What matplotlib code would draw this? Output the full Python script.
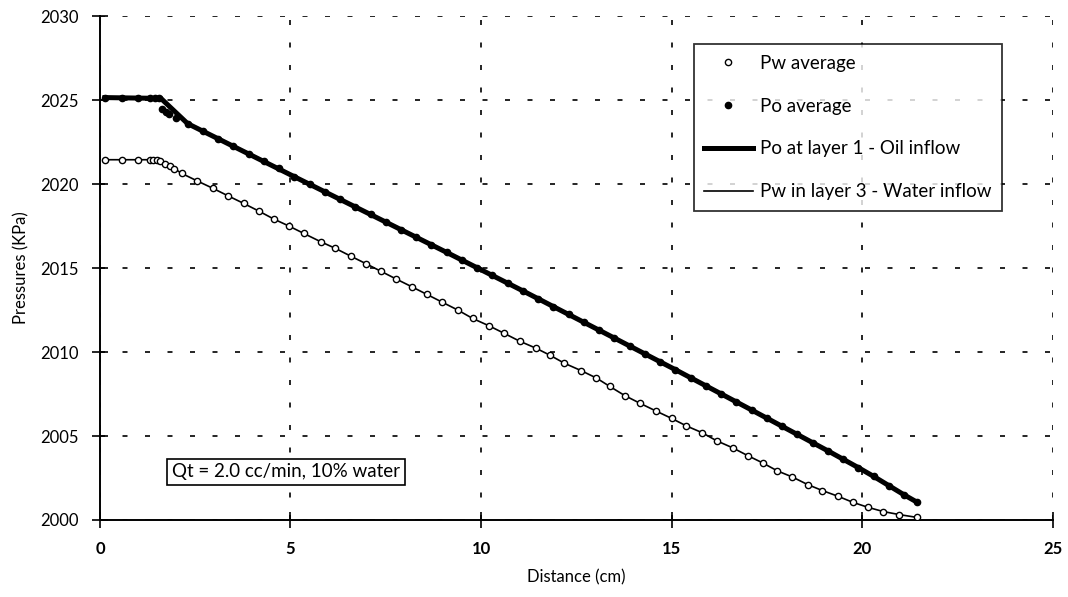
import numpy as np
import matplotlib
matplotlib.use("Agg")
import matplotlib.pyplot as plt

# Pw average (open circles) - also drawn as the thin "Pw in layer 3" line
pw_x = [0.13, 0.57, 1.01, 1.32, 1.40, 1.49, 1.58, 1.71, 1.84, 1.95, 2.15, 2.54,
        2.97, 3.37, 3.77, 4.17, 4.56, 4.96, 5.35, 5.79, 6.18, 6.58, 6.98, 7.38,
        7.78, 8.18, 8.58, 8.98, 9.39, 9.78, 10.22, 10.61, 11.01, 11.45, 11.80,
        12.19, 12.63, 13.03, 13.38, 13.77, 14.17, 14.59, 15.00, 15.39, 15.80,
        16.18, 16.60, 17.01, 17.39, 17.78, 18.17, 18.57, 18.96, 19.37, 19.76,
        20.16, 20.56, 20.98, 21.45]
pw_y = [2021.45, 2021.45, 2021.45, 2021.45, 2021.45, 2021.42, 2021.38, 2021.20,
        2021.05, 2020.92, 2020.63, 2020.20, 2019.74, 2019.29, 2018.85, 2018.39,
        2017.92, 2017.50, 2017.06, 2016.57, 2016.17, 2015.71, 2015.26, 2014.80,
        2014.34, 2013.89, 2013.43, 2012.97, 2012.50, 2012.00, 2011.55, 2011.11,
        2010.65, 2010.22, 2009.82, 2009.33, 2008.89, 2008.45, 2007.95, 2007.41,
        2006.95, 2006.49, 2006.05, 2005.60, 2005.20, 2004.72, 2004.30, 2003.82,
        2003.40, 2002.92, 2002.56, 2002.11, 2001.75, 2001.41, 2001.05, 2000.75,
        2000.50, 2000.32, 2000.15]

# Po average (filled dots)
po_x = [0.13, 0.57, 1.01, 1.32, 1.45, 1.55, 1.62, 1.72, 1.82, 2.00, 2.30, 2.70,
        3.10, 3.50, 3.90, 4.30, 4.70, 5.10, 5.50, 5.90, 6.30, 6.70, 7.10, 7.50,
        7.90, 8.30, 8.70, 9.10, 9.50, 9.90, 10.30, 10.70, 11.10, 11.50, 11.90,
        12.30, 12.70, 13.10, 13.50, 13.90, 14.30, 14.70, 15.10, 15.50, 15.90,
        16.30, 16.70, 17.10, 17.50, 17.90, 18.30, 18.70, 19.10, 19.50, 19.90,
        20.30, 20.70, 21.10, 21.45]
po_y = [2025.15, 2025.15, 2025.15, 2025.15, 2025.15, 2025.15, 2024.45, 2024.30,
        2024.15, 2023.95, 2023.60, 2023.15, 2022.70, 2022.26, 2021.82, 2021.38,
        2020.93, 2020.44, 2019.99, 2019.54, 2019.09, 2018.64, 2018.19, 2017.74,
        2017.29, 2016.84, 2016.39, 2015.93, 2015.47, 2015.02, 2014.56, 2014.10,
        2013.64, 2013.18, 2012.71, 2012.24, 2011.77, 2011.30, 2010.83, 2010.36,
        2009.89, 2009.42, 2008.95, 2008.47, 2007.99, 2007.51, 2007.03, 2006.55,
        2006.07, 2005.59, 2005.10, 2004.61, 2004.12, 2003.62, 2003.12, 2002.60,
        2002.05, 2001.50, 2001.05]

# Po at layer 1 (thick line)
po1_x = [0.13, 1.60, 2.30, 3.10, 5.10, 7.10, 9.10, 11.10, 13.10, 15.10, 17.10,
         19.10, 19.90, 20.30, 20.70, 21.10, 21.45]
po1_y = [2025.15, 2025.10, 2023.60, 2022.70, 2020.44, 2018.19, 2015.93, 2013.64,
         2011.30, 2008.95, 2006.55, 2004.12, 2003.12, 2002.60, 2002.05, 2001.50,
         2001.05]

x_ticks = [0, 5, 10, 15, 20, 25]
y_ticks = [2000, 2005, 2010, 2015, 2020, 2025, 2030]

plt.rcParams['font.family'] = ['Lato', 'DejaVu Sans']

fig = plt.figure(figsize=(10.68, 5.97), dpi=100)
ax = fig.add_axes([0.0936, 0.129, 0.892, 0.844])

ax.plot(pw_x, pw_y, 'o', ms=4.5, mfc='white', mec='black', mew=1.0,
        label="Pw average", zorder=4)
ax.plot(po_x, po_y, 'o', ms=4.5, color='black', label="Po average", zorder=3)
ax.plot(po1_x, po1_y, '-', color='black', lw=3.6,
        label="Po at layer 1 - Oil inflow", zorder=3)
ax.plot(pw_x, pw_y, '-', color='black', lw=1.2,
        label="Pw in layer 3 - Water inflow", zorder=3)

ax.set_xlim(0, 25)
ax.set_ylim(2000, 2030)
ax.set_xticks(x_ticks)
ax.set_yticks(y_ticks)
for lab in ax.get_xticklabels():
    lab.set_fontweight('bold')
ax.tick_params(direction='inout', length=12, width=1.2, labelsize=12, pad=9)
ax.grid(True, color='black', linestyle=(0, (3, 10.5)), linewidth=1.2)
ax.spines['top'].set_visible(False)
ax.spines['right'].set_visible(False)
ax.spines['left'].set_linewidth(1.4)
ax.spines['bottom'].set_linewidth(1.4)
ax.set_xlabel("Distance (cm)", fontsize=12, labelpad=9)
ax.set_ylabel("Pressures (KPa)", fontsize=12, labelpad=8)

leg = ax.legend(loc='upper right', bbox_to_anchor=(0.947, 0.944), fontsize=13.5,
                frameon=True, fancybox=False, edgecolor='black',
                labelspacing=1.38, handlelength=2.6, handletextpad=0.4,
                borderpad=0.55, borderaxespad=0)
leg.get_frame().set_linewidth(1.3)

ax.text(4.88, 2002.86, "Qt = 2.0 cc/min, 10% water", fontsize=13.5,
        ha='center', va='center',
        bbox=dict(boxstyle='square,pad=0.25', fc='white', ec='black', lw=1.2))

fig.savefig("out.png", dpi=100)
